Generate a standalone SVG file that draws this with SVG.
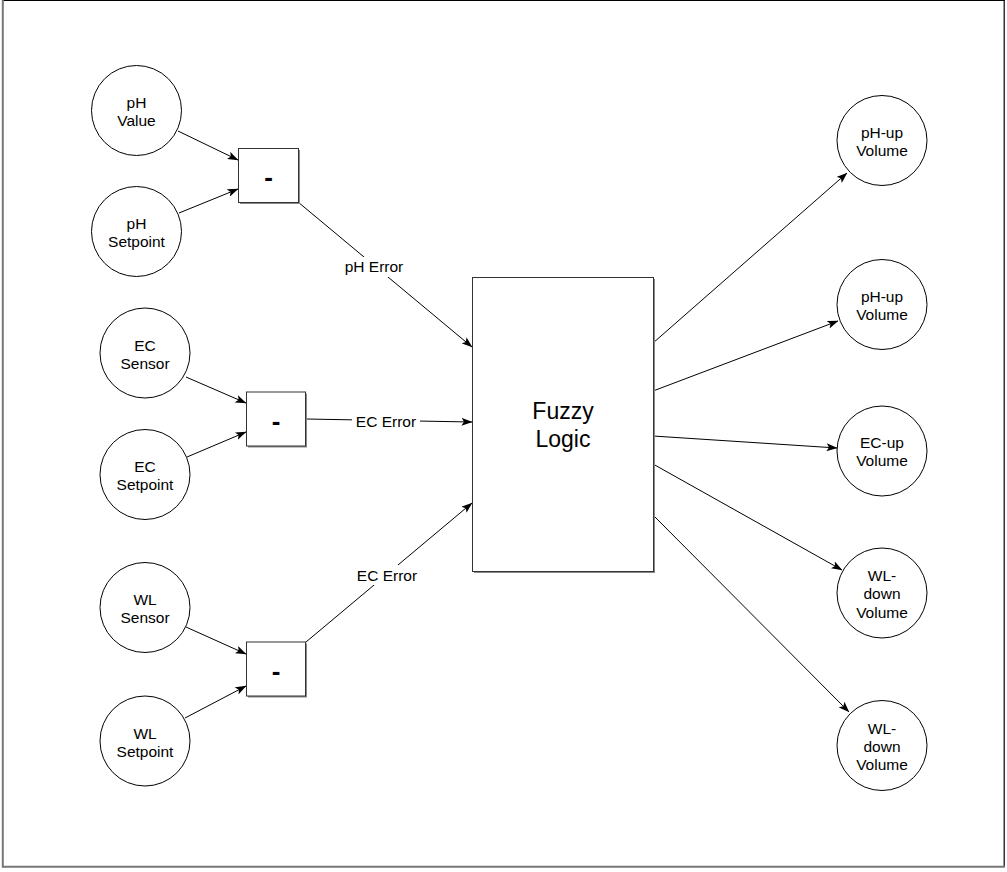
<svg xmlns="http://www.w3.org/2000/svg" width="1007" height="872" viewBox="0 0 1007 872">
<style>
  .t { font-family: "Liberation Sans", Arial, Helvetica, sans-serif; font-size: 15.5px; fill: #000; text-anchor: middle; }
  .big { font-family: "Liberation Sans", Arial, Helvetica, sans-serif; font-size: 23px; fill: #000; text-anchor: middle; }
  .minus { font-family: "Liberation Sans", Arial, Helvetica, sans-serif; font-size: 26px; font-weight: bold; fill: #000; text-anchor: middle; }
  .circ { fill: #fff; stroke: #000; stroke-width: 1; }
  .box { fill: #fff; stroke: #333; stroke-width: 1; }
  .shadow { fill: #888; stroke: none; }
  .edge { fill: none; stroke: #000; stroke-width: 1; marker-end: url(#arrow); }
  .lbl { fill: #fff; stroke: none; }
</style>
<defs>
  <marker id="arrow" markerUnits="userSpaceOnUse" markerWidth="11" markerHeight="8" viewBox="0 0 11 8" refX="10.5" refY="4" orient="auto">
    <path d="M0,0 L11,4 L0,8 L2.5,4 Z" fill="#000"/>
  </marker>
</defs>
<rect x="0" y="0" width="1007" height="872" fill="#fff"/>
<g id="frame">
  <line x1="3" y1="0.5" x2="1004.5" y2="0.5" stroke="#000" stroke-width="1"/>
  <line x1="1004.2" y1="0" x2="1004.2" y2="867" stroke="#000" stroke-width="1.2"/>
  <line x1="2.8" y1="0" x2="2.8" y2="867.5" stroke="#777" stroke-width="2"/>
  <line x1="2" y1="866.7" x2="1005" y2="866.7" stroke="#777" stroke-width="2"/>
</g>

<g id="connectors">
  <line class="edge" x1="178" y1="131" x2="238" y2="160"/>
  <line class="edge" x1="179" y1="213" x2="238" y2="189"/>
  <line class="edge" x1="298" y1="202" x2="472" y2="347"/>
  <line class="edge" x1="186" y1="377" x2="246" y2="403"/>
  <line class="edge" x1="187" y1="457" x2="246" y2="432"/>
  <line class="edge" x1="306" y1="419" x2="472" y2="422"/>
  <line class="edge" x1="186" y1="627" x2="246" y2="654"/>
  <line class="edge" x1="185" y1="718" x2="246" y2="686"/>
  <line class="edge" x1="306" y1="642" x2="472" y2="503"/>
  <line class="edge" x1="653" y1="343" x2="847" y2="173"/>
  <line class="edge" x1="653" y1="391" x2="838" y2="321"/>
  <line class="edge" x1="653" y1="436" x2="837" y2="448"/>
  <line class="edge" x1="653" y1="464" x2="842" y2="570"/>
  <line class="edge" x1="653" y1="515" x2="849" y2="712"/>
  <g id="edge-labels">
    <rect class="lbl" x="340" y="257" width="68" height="20"/>
    <text class="t" x="374" y="272.3">pH Error</text>
    <rect class="lbl" x="352" y="411" width="68" height="20"/>
    <text class="t" x="386" y="426.7">EC Error</text>
    <rect class="lbl" x="353" y="565" width="68" height="20"/>
    <text class="t" x="387" y="580.7">EC Error</text>
  </g>
</g>

<g id="ph-value"><circle class="circ" cx="136.5" cy="110.5" r="45"/><text class="t" x="136.5" y="108">pH</text><text class="t" x="136.5" y="126">Value</text></g>
<g id="ph-setpoint"><circle class="circ" cx="136.5" cy="231.5" r="45"/><text class="t" x="136.5" y="229">pH</text><text class="t" x="136.5" y="247">Setpoint</text></g>
<g id="ec-sensor"><circle class="circ" cx="145" cy="353" r="45"/><text class="t" x="145" y="351">EC</text><text class="t" x="145" y="369">Sensor</text></g>
<g id="ec-setpoint"><circle class="circ" cx="145" cy="474.5" r="45"/><text class="t" x="145" y="472">EC</text><text class="t" x="145" y="490">Setpoint</text></g>
<g id="wl-sensor"><circle class="circ" cx="145" cy="607.5" r="45"/><text class="t" x="145" y="605">WL</text><text class="t" x="145" y="623">Sensor</text></g>
<g id="wl-setpoint"><circle class="circ" cx="145" cy="741" r="45"/><text class="t" x="145" y="738.5">WL</text><text class="t" x="145" y="756.5">Setpoint</text></g>

<g id="minus-ph"><rect class="shadow" x="240" y="150" width="60" height="54"/><rect class="box" x="238.5" y="148.5" width="60" height="54"/><text class="minus" x="268.5" y="186">-</text></g>
<g id="minus-ec"><rect class="shadow" x="248" y="393.5" width="59" height="54"/><rect class="box" x="246.5" y="392" width="59" height="54"/><text class="minus" x="276" y="429.5">-</text></g>
<g id="minus-wl"><rect class="shadow" x="248" y="643.5" width="59" height="54"/><rect class="box" x="246.5" y="642" width="59" height="54"/><text class="minus" x="276" y="679.5">-</text></g>

<g id="fuzzy-logic"><rect class="shadow" x="474" y="279" width="181" height="294"/><rect class="box" x="472.5" y="277.5" width="181" height="294" stroke="#000"/><text class="big" x="563" y="419">Fuzzy</text><text class="big" x="563" y="447">Logic</text></g>

<g id="out-ph-up-1"><circle class="circ" cx="882" cy="140.5" r="45"/><text class="t" x="882" y="137.5">pH-up</text><text class="t" x="882" y="155.5">Volume</text></g>
<g id="out-ph-up-2"><circle class="circ" cx="882" cy="304.5" r="45"/><text class="t" x="882" y="301.5">pH-up</text><text class="t" x="882" y="319.5">Volume</text></g>
<g id="out-ec-up"><circle class="circ" cx="882" cy="451" r="45"/><text class="t" x="882" y="448">EC-up</text><text class="t" x="882" y="466">Volume</text></g>
<g id="out-wl-down-1"><circle class="circ" cx="882" cy="593" r="45"/><text class="t" x="882" y="581">WL-</text><text class="t" x="882" y="599.3">down</text><text class="t" x="882" y="617.6">Volume</text></g>
<g id="out-wl-down-2"><circle class="circ" cx="882" cy="745.5" r="45"/><text class="t" x="882" y="733.5">WL-</text><text class="t" x="882" y="751.8">down</text><text class="t" x="882" y="770.1">Volume</text></g>
</svg>
